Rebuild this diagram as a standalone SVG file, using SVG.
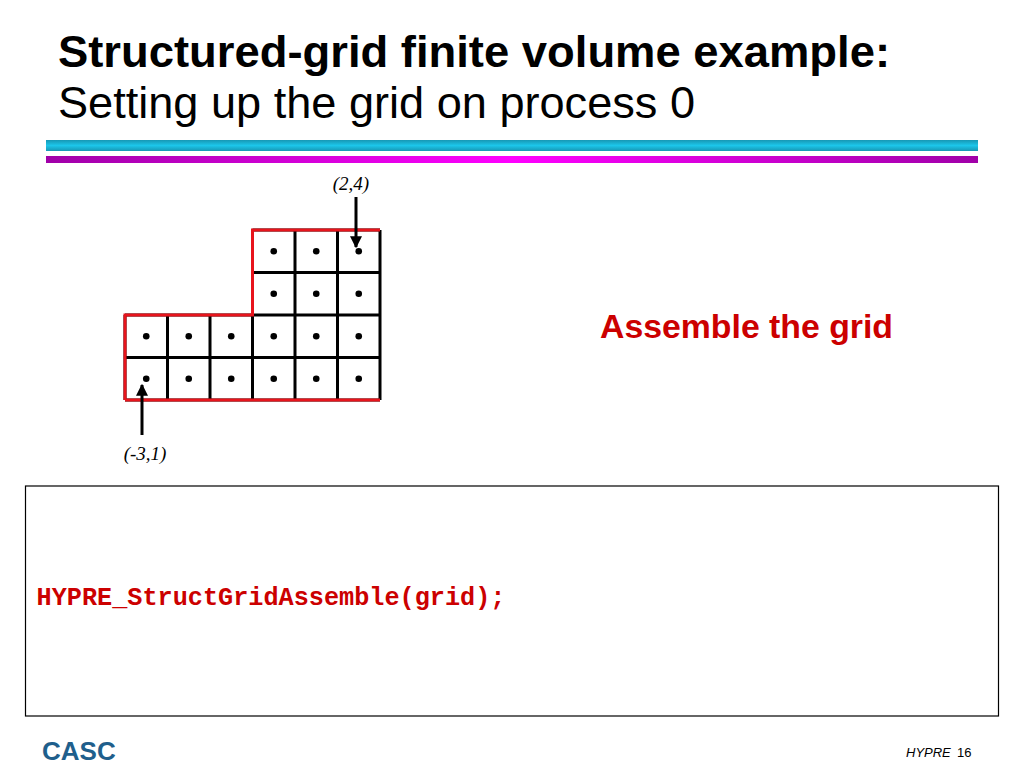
<svg xmlns="http://www.w3.org/2000/svg" width="1024" height="768" viewBox="0 0 1024 768">
<defs>
<linearGradient id="cyanG" x1="0" y1="0" x2="0" y2="1">
<stop offset="0" stop-color="#1797B4"/>
<stop offset="0.5" stop-color="#1CC6EA"/>
<stop offset="1" stop-color="#1797B4"/>
</linearGradient>
<linearGradient id="magG" x1="0" y1="0" x2="1" y2="0">
<stop offset="0" stop-color="#A000A8"/>
<stop offset="0.5" stop-color="#FF00FF"/>
<stop offset="1" stop-color="#A000A8"/>
</linearGradient>
<marker id="ah" viewBox="0 0 10 10" refX="9" refY="5" markerWidth="4" markerHeight="4" orient="auto" markerUnits="strokeWidth">
<path d="M0,0 L10,5 L0,10 z" fill="#000"/>
</marker>
<style>
.title{font-family:"Liberation Sans",Arial,sans-serif;fill:#000}
.lbl{font-family:"Liberation Serif","Times New Roman",serif;font-style:italic;font-size:19px;fill:#000}
.gl{stroke:#000;stroke-width:3;fill:none}
.dot{fill:#000}
.conn{stroke:#000;stroke-width:3;fill:none}
</style>
</defs>
<rect width="1024" height="768" fill="#fff"/>
<text class="title" x="58" y="67" font-weight="bold" font-size="45" textLength="832" lengthAdjust="spacingAndGlyphs">Structured-grid finite volume example:</text>
<text class="title" x="58" y="118" font-size="45" textLength="637" lengthAdjust="spacingAndGlyphs">Setting up the grid on process 0</text>
<rect x="46" y="140" width="932" height="11" fill="url(#cyanG)"/>
<rect x="46" y="156" width="932" height="7" fill="url(#magG)"/>

<g id="grid">
<g class="gl">
<path d="M125,400 H380 M125,357.5 H380 M125,315 H380 M252.5,272.5 H380 M252.5,230 H380"/>
<path d="M125,315 V400 M167.5,315 V400 M210,315 V400 M252.5,230 V400 M295,230 V400 M337.5,230 V400 M380,230 V400"/>
</g>
<path d="M125,400 V315 H252.5 V230 H380" stroke="#E8141C" stroke-width="3" fill="none"/>
<path d="M125,400 H380" stroke="#E8141C" stroke-width="3" fill="none"/>
<g class="dot">
<circle cx="273.75" cy="251.25" r="3.3"/><circle cx="316.25" cy="251.25" r="3.3"/><circle cx="358.75" cy="251.25" r="3.3"/>
<circle cx="273.75" cy="293.75" r="3.3"/><circle cx="316.25" cy="293.75" r="3.3"/><circle cx="358.75" cy="293.75" r="3.3"/>
<circle cx="146.25" cy="336.25" r="3.3"/><circle cx="188.75" cy="336.25" r="3.3"/><circle cx="231.25" cy="336.25" r="3.3"/><circle cx="273.75" cy="336.25" r="3.3"/><circle cx="316.25" cy="336.25" r="3.3"/><circle cx="358.75" cy="336.25" r="3.3"/>
<circle cx="146.25" cy="378.75" r="3.3"/><circle cx="188.75" cy="378.75" r="3.3"/><circle cx="231.25" cy="378.75" r="3.3"/><circle cx="273.75" cy="378.75" r="3.3"/><circle cx="316.25" cy="378.75" r="3.3"/><circle cx="358.75" cy="378.75" r="3.3"/>
</g>
</g>

<g id="label-top">
<text class="lbl" x="351" y="190" text-anchor="middle">(2,4)</text>
</g>
<g id="label-bottom">
<text class="lbl" x="145" y="460" text-anchor="middle">(-3,1)</text>
</g>

<g id="connectors">
<line class="conn" x1="356" y1="197" x2="356" y2="247" marker-end="url(#ah)"/>
<line class="conn" x1="142" y1="435" x2="142" y2="385" marker-end="url(#ah)"/>
</g>

<g id="assemble">
<text x="600" y="338" font-family="Liberation Sans,Arial,sans-serif" font-weight="bold" font-size="34" fill="#CC0000" textLength="293" lengthAdjust="spacingAndGlyphs">Assemble the grid</text>
</g>

<g id="codebox">
<rect x="25.5" y="486" width="973" height="230" fill="#fff" stroke="#000" stroke-width="1.2"/>
<text x="36.5" y="605" font-family="Liberation Mono,Courier New,monospace" font-weight="bold" font-size="25.3" fill="#CC0000" textLength="469" lengthAdjust="spacingAndGlyphs">HYPRE_StructGridAssemble(grid);</text>
</g>

<g id="footer">
<text x="42" y="760" font-family="Liberation Sans,Arial,sans-serif" font-weight="bold" font-size="26" fill="#1F5F8C">CASC</text>
<text x="906" y="757" font-family="Liberation Sans,Arial,sans-serif" font-style="italic" font-size="13" fill="#000">HYPRE</text>
<text x="957" y="757" font-family="Liberation Sans,Arial,sans-serif" font-size="13" fill="#000">16</text>
</g>
</svg>
